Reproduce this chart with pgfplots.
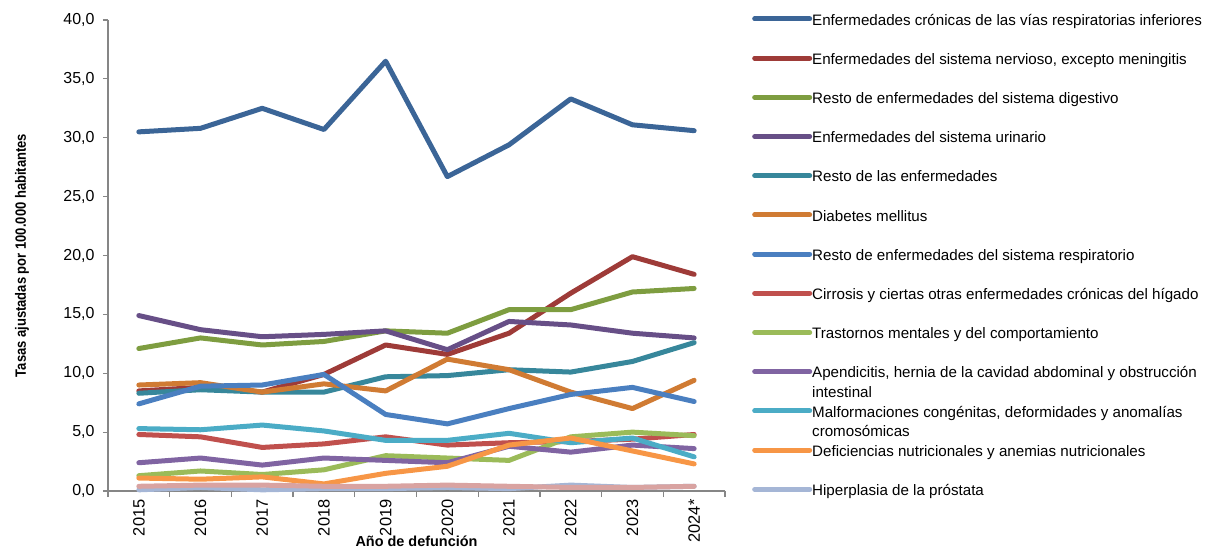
\documentclass[border=0pt]{standalone}
\usepackage{pgfplots}
\pgfplotsset{compat=1.18}
\usepackage{pgfplotstable}
\usepackage{fontspec}
\setmainfont{Liberation Sans}
\newfontfamily\ylabfont[FakeStretch=0.87]{Liberation Sans}

\definecolor{cA}{HTML}{3B6597}
\definecolor{cB}{HTML}{9E3B38}
\definecolor{cC}{HTML}{7E9D40}
\definecolor{cD}{HTML}{674F87}
\definecolor{cE}{HTML}{37879B}
\definecolor{cF}{HTML}{D07B33}
\definecolor{cG}{HTML}{4A7FC0}
\definecolor{cH}{HTML}{C0504D}
\definecolor{cI}{HTML}{9BBB59}
\definecolor{cJ}{HTML}{8064A2}
\definecolor{cK}{HTML}{4BACC6}
\definecolor{cL}{HTML}{F79646}
\definecolor{cM}{HTML}{A5B6D6}
\definecolor{cN}{HTML}{D9A3A1}
\definecolor{axisgray}{HTML}{868686}

% tasas por año (2015-2024*)
\pgfplotstableread{
x  s1   s2   s3   s4   s5   s6   s7   s8   s9   s10  s11  s12  s13  s14
0  30.5 8.5  12.1 14.9 8.3  9.0  7.4  4.8  1.3  2.4  5.3  1.1  0.1  0.4
1  30.8 8.8  13.0 13.7 8.6  9.2  8.9  4.6  1.7  2.8  5.2  1.0  0.3  0.5
2  32.5 8.4  12.4 13.1 8.4  8.4  9.0  3.7  1.4  2.2  5.6  1.2  0.1  0.5
3  30.7 9.9  12.7 13.3 8.4  9.1  9.9  4.0  1.8  2.8  5.1  0.6  0.2  0.4
4  36.5 12.4 13.6 13.6 9.7  8.5  6.5  4.6  3.0  2.6  4.3  1.5  0.2  0.4
5  26.7 11.6 13.4 12.0 9.8  11.2 5.7  3.9  2.8  2.4  4.3  2.1  0.3  0.5
6  29.4 13.4 15.4 14.4 10.3 10.3 7.0  4.1  2.6  3.8  4.9  3.9  0.2  0.4
7  33.3 16.8 15.4 14.1 10.1 8.4  8.2  4.2  4.6  3.3  4.1  4.5  0.5  0.3
8  31.1 19.9 16.9 13.4 11.0 7.0  8.8  4.4  5.0  3.9  4.5  3.4  0.3  0.3
9  30.6 18.4 17.2 13.0 12.6 9.4  7.6  4.8  4.7  3.6  2.9  2.3  0.4  0.4
}\datos

\newcommand{\ent}[1]{\raisebox{0pt}[14bp][4bp]{\parbox[t]{392bp}{\raggedright #1}}}

\begin{document}
\begin{tikzpicture}
\path[use as bounding box] (-108bp,-59bp) rectangle (1099bp,491bp);
\begin{axis}[
  at={(0,0)}, anchor=south west,
  scale only axis, width=617bp, height=471bp,
  xmin=-0.5, xmax=9.5, ymin=0, ymax=40,
  clip=false,
  axis x line*=bottom, axis y line*=left,
  axis line style={draw=axisgray, line width=1.2bp, -},
  xtick={0,...,9},
  xticklabels={2015,2016,2017,2018,2019,2020,2021,2022,2023,2024*},
  minor xtick={-0.5,0.5,...,9.5},
  major x tick style={draw=none},
  ytick={0,5,...,40},
  tick align=outside,
  tick style={draw=axisgray, line width=1.2bp},
  major tick length=5bp, minor tick length=6bp,
  /pgf/number format/fixed, /pgf/number format/fixed zerofill,
  /pgf/number format/precision=1, /pgf/number format/use comma,
  /pgf/number format/assume math mode=true,
  yticklabel style={font=\fontsize{16}{19}\selectfont, xshift=-5bp},
  xticklabel style={font=\fontsize{16.5}{19}\selectfont, rotate=90, anchor=east},
  ylabel={Tasas ajustadas por 100.000 habitantes},
  xlabel={Año de defunción},
  every axis y label/.style={at={(axis description cs:-0.1394,0.5)}, rotate=90, anchor=center, font=\ylabfont\fontsize{15}{18}\selectfont\bfseries},
  every axis x label/.style={at={(axis description cs:0.5,-0.1062)}, anchor=center, font=\fontsize{14.5}{17}\selectfont\bfseries},
  every axis plot/.append style={line width=5bp, line cap=round, line join=round},
  legend cell align=left,
  legend image code/.code={\path (0bp,0bp) -- (55bp,0bp);\draw[#1, line width=5bp, line cap=round] (2.5bp,0bp) -- (52.5bp,0bp);},
  legend style={at={(axis description cs:1,1)}, anchor=north west, xshift=27bp, yshift=9bp,
    draw=none, fill=none, inner sep=0pt, row sep=23.7bp, column sep=0bp,
    nodes={inner sep=0pt}, font=\fontsize{15.2}{19.5}\selectfont},
]
\addplot[cA] table[x=x, y=s1] {\datos};
\addlegendentry{\ent{Enfermedades crónicas de las vías respiratorias inferiores}}
\addplot[cB] table[x=x, y=s2] {\datos};
\addlegendentry{\ent{Enfermedades del sistema nervioso, excepto meningitis}}
\addplot[cC] table[x=x, y=s3] {\datos};
\addlegendentry{\ent{Resto de enfermedades del sistema digestivo}}
\addplot[cD] table[x=x, y=s4] {\datos};
\addlegendentry{\ent{Enfermedades del sistema urinario}}
\addplot[cE] table[x=x, y=s5] {\datos};
\addlegendentry{\ent{Resto de las enfermedades}}
\addplot[cF] table[x=x, y=s6] {\datos};
\addlegendentry{\ent{Diabetes mellitus}}
\addplot[cG] table[x=x, y=s7] {\datos};
\addlegendentry{\ent{Resto de enfermedades del sistema respiratorio}}
\addplot[cH] table[x=x, y=s8] {\datos};
\addlegendentry{\ent{Cirrosis y ciertas otras enfermedades crónicas del hígado}}
\addplot[cI] table[x=x, y=s9] {\datos};
\addlegendentry{\ent{Trastornos mentales y del comportamiento}}
\addplot[cJ] table[x=x, y=s10] {\datos};
\addlegendentry{\ent{Apendicitis, hernia de la cavidad abdominal y obstrucción intestinal}}
\addplot[cK] table[x=x, y=s11] {\datos};
\addlegendentry{\ent{Malformaciones congénitas, deformidades y anomalías cromosómicas}}
\addplot[cL] table[x=x, y=s12] {\datos};
\addlegendentry{\ent{Deficiencias nutricionales y anemias nutricionales}}
\addplot[cM] table[x=x, y=s13] {\datos};
\addlegendentry{\ent{Hiperplasia de la próstata}}
\addplot[cN, forget plot] table[x=x, y=s14] {\datos};
\end{axis}
\end{tikzpicture}
\end{document}
